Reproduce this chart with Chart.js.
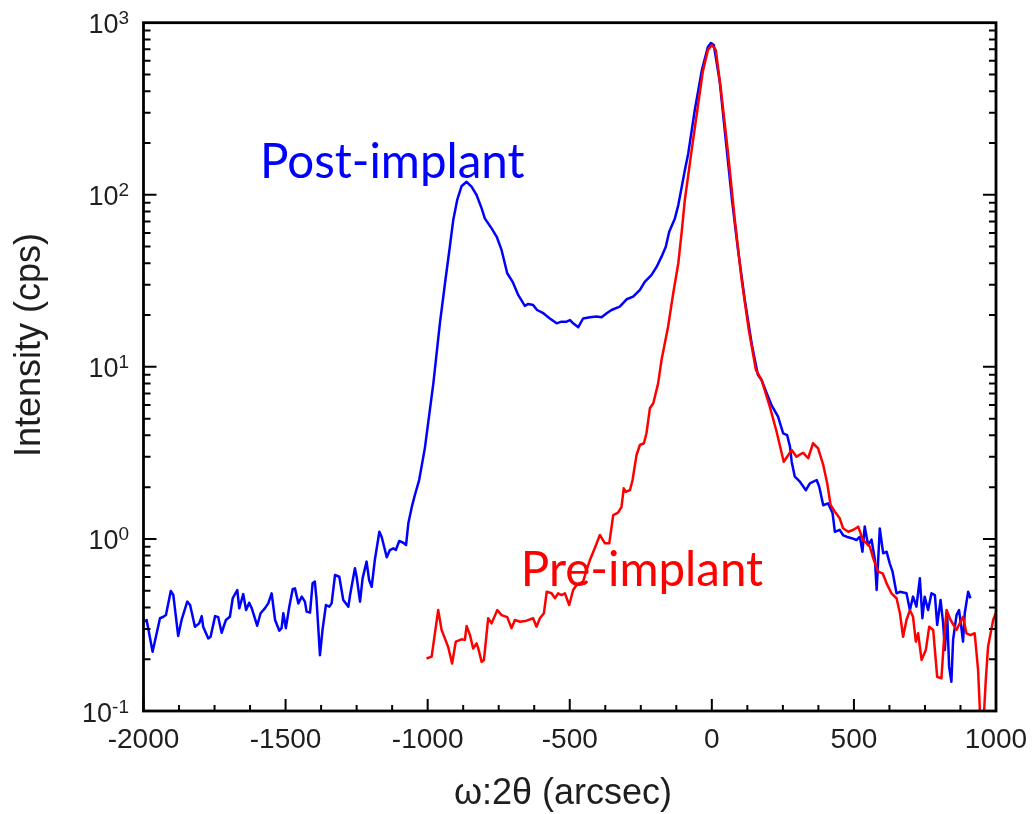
<!DOCTYPE html>
<html>
<head>
<meta charset="utf-8">
<script src="https://cdn.jsdelivr.net/npm/chart.js"></script>
<style>
html,body{margin:0;padding:0;background:#fff;}
canvas{display:block;}
</style>
</head>
<body>
<canvas id="c" width="1032" height="814"></canvas>
<script>
// ---- data (x in arcsec, y in cps) ----
const postImplant = [
[-1995,0.330],[-1989,0.338],[-1968,0.221],[-1942,0.346],[-1930,0.353],[-1921,0.361],[-1904,0.498],[-1895,0.472],
[-1878,0.273],[-1866,0.338],[-1846,0.432],[-1836,0.413],[-1819,0.309],[-1804,0.323],[-1795,0.356],[-1790,0.309],
[-1772,0.264],[-1764,0.270],[-1748,0.356],[-1737,0.351],[-1725,0.285],[-1710,0.338],[-1696,0.353],[-1686,0.452],
[-1670,0.505],[-1663,0.395],[-1649,0.478],[-1639,0.386],[-1628,0.426],[-1619,0.395],[-1600,0.313],[-1588,0.370],
[-1573,0.395],[-1561,0.422],[-1549,0.483],[-1537,0.338],[-1522,0.293],[-1514,0.303],[-1508,0.370],[-1499,0.303],
[-1487,0.404],[-1475,0.510],[-1467,0.516],[-1455,0.422],[-1443,0.462],[-1432,0.432],[-1426,0.378],[-1414,0.373],
[-1405,0.552],[-1397,0.565],[-1391,0.442],[-1379,0.211],[-1370,0.296],[-1358,0.413],[-1346,0.404],[-1338,0.422],
[-1326,0.617],[-1311,0.603],[-1297,0.442],[-1279,0.404],[-1273,0.472],[-1256,0.675],[-1250,0.603],[-1238,0.432],
[-1229,0.590],[-1215,0.738],[-1206,0.577],[-1197,0.527],[-1186,0.754],[-1170,1.101],[-1162,1.03],[-1144,0.782],
[-1133,0.862],[-1121,0.882],[-1112,0.862],[-1100,0.973],[-1086,0.95],[-1076,0.922],[-1068,1.233],[-1056,1.53],
[-1045,1.80],[-1030,2.198],[-1010,3.36],[-980,8.02],[-957,17.9],[-939,30.6],[-922,49.9],[-910,71.3],
[-896,93.3],[-881,112],[-863,119],[-845,111],[-828,99.7],[-810,83.4],[-799,72.9],[-775,63.8],
[-757,57.0],[-740,47.8],[-720,35.0],[-701,31.2],[-681,26.1],[-658,22.6],[-646,23.2],[-629,22.9],
[-615,21.4],[-593,20.5],[-570,19.1],[-546,17.9],[-529,18.3],[-511,18.3],[-499,18.7],[-488,17.9],
[-470,17.0],[-453,19.1],[-429,19.4],[-406,19.6],[-388,19.4],[-370,20.5],[-353,21.4],[-324,22.4],
[-300,24.7],[-277,25.6],[-253,28.0],[-236,31.2],[-212,34.2],[-194,38.2],[-177,43.7],[-162,49.9],
[-150,61.0],[-130,72.9],[-118,87.1],[-106,111],[-95,139],[-83,174],[-60,311],[-35,531],
[-14,722],[-3,762],[7,742],[28,452],[49,208],[71,93],[92,48],[116,24.5],
[141,13.4],[162,9.0],[175,8.39],[198,6.70],[210,6.0],[233,5.13],[251,4.11],[265,4.01],
[275,3.44],[281,2.81],[292,2.30],[310,2.15],[331,1.92],[345,2.10],[369,2.20],[378,2.01],
[392,1.57],[409,1.61],[425,1.41],[433,1.10],[450,1.13],[462,1.05],[474,1.03],[492,1.01],
[509,0.986],[521,1.03],[530,0.843],[538,1.18],[550,0.92],[562,0.99],[574,0.754],[580,0.505],
[591,1.15],[603,0.825],[615,0.843],[626,0.721],[636,0.645],[650,0.483],[662,0.493],[685,0.483],
[697,0.386],[708,0.462],[720,0.404],[732,0.59],[741,0.346],[749,0.462],[761,0.386],[773,0.483],
[785,0.472],[793,0.316],[805,0.442],[814,0.323],[820,0.226],[828,0.37],[835,0.181],[843,0.148],
[849,0.259],[861,0.361],[870,0.386],[879,0.296],[884,0.253],[890,0.37],[902,0.493],[910,0.452]
];
const preImplant = [
[-1004,0.202],[-986,0.207],[-963,0.386],[-951,0.296],[-928,0.236],[-914,0.189],[-901,0.253],[-881,0.261],
[-869,0.259],[-863,0.312],[-851,0.276],[-840,0.231],[-828,0.247],[-822,0.231],[-810,0.193],[-802,0.198],
[-787,0.346],[-775,0.323],[-755,0.386],[-740,0.361],[-720,0.351],[-705,0.303],[-693,0.338],[-675,0.330],
[-652,0.335],[-629,0.346],[-617,0.309],[-605,0.346],[-591,0.370],[-581,0.493],[-564,0.483],[-552,0.452],
[-541,0.483],[-529,0.472],[-517,0.483],[-502,0.413],[-488,0.505],[-476,0.540],[-453,0.565],[-441,0.659],
[-429,0.754],[-412,0.882],[-394,1.054],[-376,0.943],[-361,0.943],[-347,1.377],[-330,1.42],[-318,1.53],
[-310,1.968],[-303,1.88],[-288,1.923],[-279,2.198],[-265,3.075],[-253,3.515],[-239,3.597],[-230,4.111],
[-218,5.741],[-206,6.14],[-189,8.02],[-177,10.96],[-154,17.1],[-136,26.7],[-118,40.0],[-106,61.0],
[-95,93.3],[-83,130],[-71,182],[-51,311],[-32,517],[-14,693],[0,742],[14,693],
[32,407],[56,182],[81,71.3],[105,32],[130,16.4],[155,9.6],[175,8.39],[204,5.867],
[228,4.198],[253,2.811],[265,3.006],[281,3.288],[298,3.006],[321,3.17],[339,2.943],[356,3.597],
[374,3.362],[392,2.69],[406,2.104],[418,1.574],[433,1.44],[450,1.318],[462,1.153],[480,1.101],
[497,1.127],[515,1.178],[532,0.986],[556,0.901],[568,0.771],[585,0.645],[601,0.631],[615,0.552],
[632,0.483],[650,0.452],[662,0.370],[673,0.270],[685,0.338],[697,0.386],[708,0.353],[718,0.253],
[726,0.283],[738,0.198],[753,0.226],[765,0.309],[779,0.296],[793,0.158],[808,0.155],[816,0.247],
[826,0.386],[840,0.338],[861,0.296],[884,0.353],[896,0.283],[910,0.276],[925,0.283],[937,0.173],
[946,0.08],[955,0.08],[964,0.151],[972,0.236],[990,0.338],[999,0.370]
];
const xTickValues = [-2000,-1500,-1000,-500,0,500,1000];
const xTickLabels = ['-2000','-1500','-1000','-500','0','500','1000'];
const yTickValues = [0.1,1,10,100,1000];
const yTickExponents = ['-1','0','1','2','3'];
const seriesNames = ['Post-implant','Pre-implant'];
const xTitle = 'ω:2θ (arcsec)';
const yTitle = 'Intensity (cps)';

const toXY = arr => arr.map(p => ({x:p[0], y:p[1]}));

const framePlugin = {
  id:'frame',
  afterDraw(chart){
    const ctx = chart.ctx, a = chart.chartArea;
    const xs = chart.scales.x, ys = chart.scales.y;
    ctx.save();
    ctx.strokeStyle = '#000';
    ctx.lineCap = 'butt';
    // ticks
    ctx.lineWidth = 2;
    ctx.beginPath();
    for (let v = -2000; v <= 1000; v += 125) {
      const major = v % 500 === 0;
      const len = major ? 12 : 6;
      const px = xs.getPixelForValue(v);
      ctx.moveTo(px, a.bottom); ctx.lineTo(px, a.bottom - len);
    }
    for (let d = 0.1; d < 1000; d *= 10) {
      for (let m = 1; m <= 9; m++) {
        const v = m * d;
        const py = ys.getPixelForValue(v);
        const major = m === 1;
        const len = major ? 13 : 7;
        ctx.moveTo(a.left, py); ctx.lineTo(a.left + len, py);
        ctx.moveTo(a.right, py); ctx.lineTo(a.right - len, py);
      }
    }
    ctx.stroke();
    // frame
    ctx.lineWidth = 2.8;
    ctx.strokeRect(a.left, a.top, a.right - a.left, a.bottom - a.top);

    // x tick labels
    ctx.fillStyle = '#1e1e1e';
    ctx.font = '28px "Liberation Sans", Arial, sans-serif';
    ctx.textAlign = 'center';
    ctx.textBaseline = 'alphabetic';
    xTickValues.forEach((v,i) => {
      ctx.fillText(xTickLabels[i], xs.getPixelForValue(v), 748);
    });
    // y tick labels (10^n)
    yTickValues.forEach((v,i) => {
      const py = ys.getPixelForValue(v);
      ctx.font = '27px "Liberation Sans", Arial, sans-serif';
      const w10 = ctx.measureText('10').width;
      ctx.font = '19px "Liberation Sans", Arial, sans-serif';
      const we = ctx.measureText(yTickExponents[i]).width;
      const x0 = 129 - w10 - we;
      ctx.textAlign = 'left';
      ctx.font = '27px "Liberation Sans", Arial, sans-serif';
      ctx.fillText('10', x0, py + 10.5);
      ctx.font = '19px "Liberation Sans", Arial, sans-serif';
      ctx.fillText(yTickExponents[i], x0 + w10, py + 1.5);
    });
    // axis titles
    ctx.font = '36px "Liberation Sans", Arial, sans-serif';
    ctx.textAlign = 'center';
    ctx.fillText(xTitle, 563, 804);
    ctx.save();
    ctx.translate(40, 345);
    ctx.rotate(-Math.PI/2);
    ctx.fillText(yTitle, 0, 0);
    ctx.restore();

    // series annotations
    ctx.textAlign = 'left';
    ctx.font = '47.5px Lato, "Open Sans", sans-serif';
    ctx.fillStyle = '#0000ff';
    ctx.fillText(seriesNames[0], xs.getPixelForValue(-1590), ys.getPixelForValue(125));
    ctx.fillStyle = '#ff0000';
    ctx.fillText(seriesNames[1], xs.getPixelForValue(-672), ys.getPixelForValue(0.53));
    ctx.restore();
  }
};

new Chart(document.getElementById('c'), {
  type: 'scatter',
  data: {
    datasets: [
      {label: seriesNames[1], data: toXY(preImplant), showLine:true, borderColor:'#ff0000', borderWidth:2.5, pointRadius:0, tension:0, borderJoinStyle:'round'},
      {label: seriesNames[0], data: toXY(postImplant), showLine:true, borderColor:'#0000ff', borderWidth:2.5, pointRadius:0, tension:0, borderJoinStyle:'round'}
    ]
  },
  options: {
    responsive:false,
    devicePixelRatio:1,
    animation:false,
    layout:{padding:{left:143.5, right:36, top:22.7, bottom:103}},
    plugins:{legend:{display:false}, tooltip:{enabled:false}},
    scales:{
      x:{type:'linear', min:-2000, max:1000, display:false},
      y:{type:'logarithmic', min:0.1, max:1000, display:false}
    }
  },
  plugins:[framePlugin]
});
</script>
</body>
</html>
